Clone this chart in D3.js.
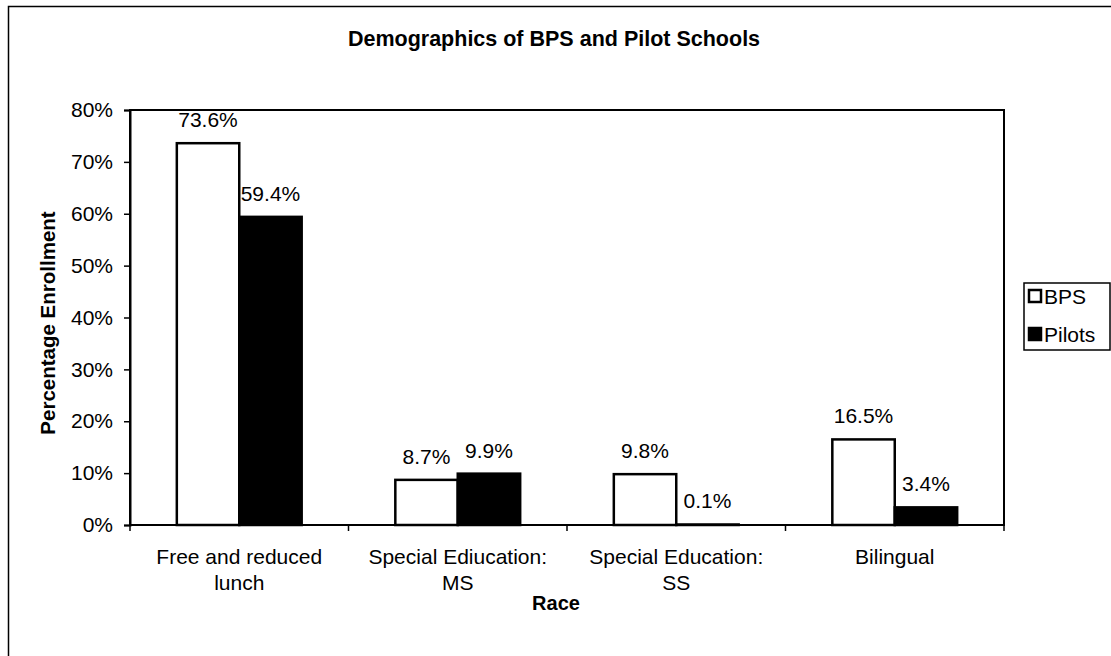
<!DOCTYPE html>
<html>
<head>
<meta charset="utf-8">
<script src="https://cdn.jsdelivr.net/npm/d3@7/dist/d3.min.js"></script>
<style>
  html, body { margin: 0; padding: 0; background: #fff; }
  svg { display: block; font-family: "Liberation Sans", Arial, sans-serif; }
</style>
</head>
<body>
<svg id="chart" width="1111" height="656"></svg>
<script>
// Enrollment shares by demographic category
const categories = [
  ["Free and reduced", "lunch"],
  ["Special Ediucation:", "MS"],
  ["Special Education:", "SS"],
  ["Bilingual"]
];
const seriesNames = ["BPS", "Pilots"];
const bpsValues = [73.6, 8.7, 9.8, 16.5];
const pilotsValues = [59.4, 9.9, 0.1, 3.4];
const yTicks = [0, 10, 20, 30, 40, 50, 60, 70, 80];

const svg = d3.select("#chart");
const FS = 21;

// outer chart frame (runs off the right and bottom edge)
svg.append("rect")
  .attr("x", 8.5).attr("y", 6.5)
  .attr("width", 1130).attr("height", 700)
  .attr("fill", "none").attr("stroke", "#000").attr("stroke-width", 1.5);

const plot = { left: 130, right: 1004, top: 110, bottom: 525 };

const catIdx = categories.map((d, i) => i);
const x0 = d3.scaleBand().domain(catIdx).range([plot.left, plot.right]).padding(0);
const bw = x0.bandwidth();
const x1 = d3.scaleBand().domain(seriesNames)
  .range([bw * 0.75 / 3.5, bw * 2.75 / 3.5]).padding(0);
const y = d3.scaleLinear().domain([0, 80]).range([plot.bottom, plot.top]);

// plot area border
svg.append("rect")
  .attr("x", plot.left).attr("y", plot.top)
  .attr("width", plot.right - plot.left).attr("height", plot.bottom - plot.top)
  .attr("fill", "none").attr("stroke", "#000").attr("stroke-width", 2);

// title
svg.append("text")
  .attr("x", 554).attr("y", 46)
  .attr("text-anchor", "middle")
  .attr("font-weight", "bold").attr("font-size", 21.5)
  .text("Demographics of BPS and Pilot Schools");

// y axis
const yAxis = d3.axisLeft(y).tickValues(yTicks)
  .tickFormat(d => d + "%").tickSize(6).tickPadding(11);
const yg = svg.append("g").attr("transform", `translate(${plot.left},0)`).call(yAxis);
yg.select(".domain").attr("stroke-width", 2);
yg.selectAll(".tick line").attr("stroke-width", 1.5);
yg.selectAll(".tick text").attr("font-size", FS).attr("fill", "#000")
  .attr("font-family", "Liberation Sans, Arial, sans-serif");

// x axis: ticks at category boundaries
const boundaries = d3.range(categories.length + 1).map(i => plot.left + i * bw);
svg.append("g").selectAll("line").data(boundaries).join("line")
  .attr("x1", d => d).attr("x2", d => d)
  .attr("y1", plot.bottom).attr("y2", plot.bottom + 6)
  .attr("stroke", "#000").attr("stroke-width", 1.5);

// category labels
const catLabels = svg.append("g").selectAll("text").data(categories).join("text")
  .attr("x", (d, i) => x0(i) + bw / 2)
  .attr("y", 564)
  .attr("text-anchor", "middle")
  .attr("font-size", FS);
catLabels.selectAll("tspan").data(d => d).join("tspan")
  .attr("x", function () { return d3.select(this.parentNode).attr("x"); })
  .attr("dy", (d, i) => i === 0 ? 0 : 26)
  .text(d => d);

// axis titles
svg.append("text")
  .attr("x", 556).attr("y", 610)
  .attr("text-anchor", "middle")
  .attr("font-weight", "bold").attr("font-size", 20)
  .text("Race");
svg.append("text")
  .attr("transform", "translate(55,323) rotate(-90)")
  .attr("text-anchor", "middle")
  .attr("font-weight", "bold").attr("font-size", 20.5)
  .text("Percentage Enrollment");

// bars
const rows = catIdx.map(i => ({ i, values: [bpsValues[i], pilotsValues[i]] }));
const fills = { BPS: "#fff", Pilots: "#000" };
const groups = svg.append("g").selectAll("g").data(rows).join("g")
  .attr("transform", d => `translate(${x0(d.i)},0)`);
groups.selectAll("rect")
  .data(d => d.values.map((v, k) => ({ name: seriesNames[k], v })))
  .join("rect")
  .attr("x", d => x1(d.name))
  .attr("width", x1.bandwidth())
  .attr("y", d => y(d.v))
  .attr("height", d => y(0) - y(d.v))
  .attr("fill", d => fills[d.name])
  .attr("stroke", "#000").attr("stroke-width", 2.5);

// value labels
groups.selectAll("text")
  .data(d => d.values.map((v, k) => ({ name: seriesNames[k], v })))
  .join("text")
  .attr("x", d => x1(d.name) + x1.bandwidth() / 2)
  .attr("y", d => y(d.v) - 16)
  .attr("text-anchor", "middle")
  .attr("font-size", FS)
  .text(d => d.v.toFixed(1) + "%");

// legend
const lg = svg.append("g").attr("transform", "translate(1024,283)");
lg.append("rect").attr("x", 0).attr("y", 0).attr("width", 86).attr("height", 67)
  .attr("fill", "#fff").attr("stroke", "#000").attr("stroke-width", 1.5);
const items = lg.selectAll("g.item").data(seriesNames).join("g")
  .attr("class", "item")
  .attr("transform", (d, i) => `translate(4,${13 + i * 38})`);
items.append("rect").attr("x", 1).attr("y", -6).attr("width", 12).attr("height", 12)
  .attr("fill", d => fills[d]).attr("stroke", "#000").attr("stroke-width", 2.5);
items.append("text").attr("x", 16).attr("y", 8).attr("font-size", FS).text(d => d);
</script>
</body>
</html>
